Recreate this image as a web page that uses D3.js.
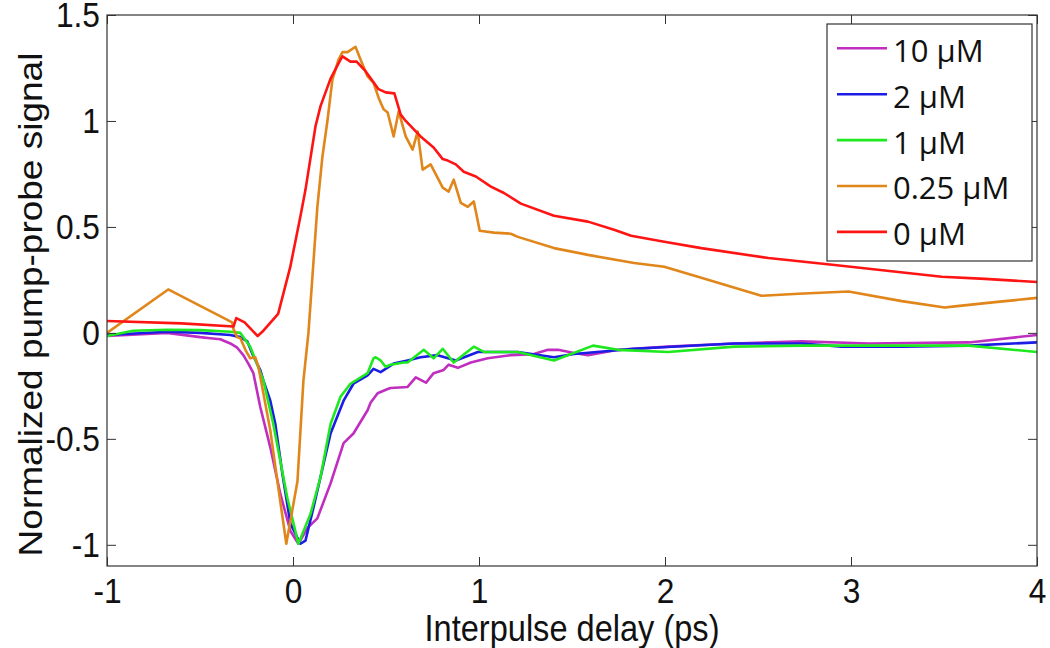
<!DOCTYPE html>
<html>
<head>
<meta charset="utf-8">
<script src="https://cdn.jsdelivr.net/npm/d3@7"></script>
<style>
  html, body { margin: 0; padding: 0; background: #fff; }
  svg { display: block; }
</style>
</head>
<body>
<svg id="chart" width="1050" height="648"></svg>
<script>
// ---------- data ----------
const seriesNames = ["10 μM", "2 μM", "1 μM", "0.25 μM", "0 μM"];
const seriesColors = ["#c02ec0", "#1c1ce6", "#1ee81e", "#e0861a", "#ff1414"];

const x10uM = [-1, -0.677, -0.499, -0.445, -0.391, -0.337, -0.30, -0.267, -0.24, -0.213, -0.176, -0.122, -0.068, -0.014, 0.029, 0.078, 0.131, 0.202, 0.272, 0.325, 0.401, 0.417, 0.455, 0.509, 0.525, 0.616, 0.66, 0.715, 0.756, 0.81, 0.837, 0.886, 0.956, 1.047, 1.171, 1.295, 1.371, 1.425, 1.511, 1.586, 1.748, 2.017, 2.373, 2.734, 3.095, 3.634, 4.0];
const y10uM = [-0.015, 0.0, -0.02, -0.025, -0.03, -0.05, -0.07, -0.105, -0.145, -0.19, -0.35, -0.54, -0.76, -0.935, -0.995, -0.92, -0.875, -0.71, -0.52, -0.475, -0.365, -0.33, -0.285, -0.265, -0.26, -0.255, -0.21, -0.235, -0.19, -0.175, -0.15, -0.165, -0.14, -0.12, -0.105, -0.10, -0.08, -0.08, -0.095, -0.105, -0.08, -0.065, -0.05, -0.04, -0.05, -0.045, -0.01];

const x2uM = [-1, -0.677, -0.499, -0.337, -0.283, -0.246, -0.213, -0.176, -0.159, -0.122, -0.095, -0.057, -0.014, 0.04, 0.067, 0.11, 0.148, 0.202, 0.272, 0.325, 0.401, 0.433, 0.471, 0.541, 0.616, 0.686, 0.778, 0.875, 0.994, 1.209, 1.403, 1.511, 1.834, 2.373, 2.734, 2.949, 3.273, 3.634, 4.0];
const y2uM = [-0.01, 0.005, 0.0, -0.01, -0.02, -0.04, -0.11, -0.175, -0.225, -0.32, -0.43, -0.665, -0.9, -0.995, -0.98, -0.825, -0.68, -0.475, -0.32, -0.24, -0.2, -0.17, -0.185, -0.145, -0.13, -0.115, -0.105, -0.13, -0.09, -0.09, -0.115, -0.10, -0.075, -0.05, -0.05, -0.065, -0.065, -0.06, -0.045];

const x1uM = [-1, -0.86, -0.677, -0.499, -0.337, -0.283, -0.23, -0.192, -0.159, -0.106, -0.03, 0.029, 0.094, 0.148, 0.202, 0.256, 0.309, 0.401, 0.433, 0.444, 0.471, 0.498, 0.525, 0.595, 0.616, 0.703, 0.756, 0.805, 0.864, 0.972, 1.026, 1.209, 1.403, 1.613, 1.748, 2.017, 2.373, 2.734, 3.0, 3.634, 4.0];
const y1uM = [-0.015, 0.01, 0.015, 0.013, 0.005, 0.0, -0.065, -0.15, -0.225, -0.43, -0.78, -0.995, -0.855, -0.68, -0.43, -0.30, -0.24, -0.19, -0.12, -0.115, -0.13, -0.16, -0.15, -0.14, -0.14, -0.08, -0.12, -0.075, -0.14, -0.065, -0.09, -0.09, -0.13, -0.06, -0.08, -0.09, -0.065, -0.06, -0.06, -0.06, -0.09];

const x025uM = [-1, -0.671, -0.327, -0.321, -0.30, -0.283, -0.256, -0.23, -0.203, -0.186, -0.122, -0.079, -0.036, 0.024, 0.056, 0.083, 0.131, 0.158, 0.185, 0.212, 0.245, 0.266, 0.293, 0.336, 0.363, 0.401, 0.433, 0.46, 0.487, 0.509, 0.541, 0.568, 0.606, 0.643, 0.67, 0.697, 0.74, 0.805, 0.837, 0.864, 0.902, 0.94, 0.972, 1.004, 1.08, 1.171, 1.209, 1.403, 1.586, 1.834, 1.996, 2.195, 2.518, 2.718, 2.987, 3.273, 3.504, 3.558, 3.774, 4.0];
const y025uM = [0.0, 0.205, 0.05, 0.02, -0.02, -0.025, -0.08, -0.12, -0.115, -0.16, -0.46, -0.73, -0.995, -0.70, -0.225, 0.0, 0.595, 0.83, 1.0, 1.196, 1.29, 1.325, 1.325, 1.35, 1.29, 1.21, 1.18, 1.11, 1.055, 1.04, 0.927, 1.045, 0.927, 0.865, 0.95, 0.77, 0.795, 0.685, 0.667, 0.723, 0.614, 0.595, 0.62, 0.482, 0.473, 0.468, 0.453, 0.40, 0.368, 0.33, 0.312, 0.26, 0.175, 0.185, 0.195, 0.15, 0.12, 0.125, 0.145, 0.165];

const x0uM = [-1, -0.6, -0.32, -0.305, -0.26, -0.19, -0.165, -0.08, -0.015, 0.04, 0.067, 0.121, 0.148, 0.202, 0.256, 0.266, 0.309, 0.342, 0.39, 0.46, 0.498, 0.545, 0.579, 0.606, 0.686, 0.756, 0.805, 0.832, 0.875, 0.918, 0.983, 1.064, 1.134, 1.225, 1.403, 1.586, 1.726, 1.818, 1.996, 2.195, 2.556, 2.912, 3.488, 3.72, 4.0];
const y0uM = [0.056, 0.045, 0.03, 0.07, 0.05, -0.015, 0.005, 0.09, 0.31, 0.55, 0.675, 0.975, 1.07, 1.20, 1.29, 1.305, 1.28, 1.28, 1.235, 1.15, 1.135, 1.13, 1.03, 1.0, 0.927, 0.875, 0.82, 0.813, 0.795, 0.76, 0.738, 0.69, 0.66, 0.61, 0.553, 0.525, 0.487, 0.458, 0.43, 0.40, 0.353, 0.32, 0.265, 0.255, 0.24];

const xTicks = [-1, 0, 1, 2, 3, 4];
const yTicks = [-1, -0.5, 0, 0.5, 1, 1.5];
const xTitle = "Interpulse delay (ps)";
const yTitle = "Normalized pump-probe signal";

const seriesX = [x10uM, x2uM, x1uM, x025uM, x0uM];
const seriesY = [y10uM, y2uM, y1uM, y025uM, y0uM];

// ---------- layout ----------
const L = 107, R = 1037, T = 15, B = 566;
const axisColor = "#333";
const squeeze = 0.88;      // horizontally condensed axis text
const axisFont = "'Liberation Sans', Arial, sans-serif";

const svg = d3.select("#chart");
const x = d3.scaleLinear().domain([-1, 4]).range([L, R]);
const y = d3.scaleLinear().domain([-1.1, 1.5]).range([B, T]);

svg.append("defs").append("clipPath").attr("id", "plotclip")
  .append("rect").attr("x", L).attr("y", T).attr("width", R - L).attr("height", B - T);

// curves
const line = d3.line().x(d => x(d[0])).y(d => y(d[1]));
const curves = svg.append("g").attr("clip-path", "url(#plotclip)");
seriesNames.forEach((name, i) => {
  const pts = seriesX[i].map((v, j) => [v, seriesY[i][j]]);
  curves.append("path")
    .datum(pts)
    .attr("d", line)
    .attr("fill", "none")
    .attr("stroke", seriesColors[i])
    .attr("stroke-width", 2.6)
    .attr("stroke-linejoin", "round");
});

// axes (MATLAB style: inward ticks, box)
const fmt = d => String(d);
function styleAxis(g) {
  g.select(".domain").remove();
  g.selectAll(".tick line").attr("stroke", axisColor).attr("stroke-width", 1);
  g.selectAll(".tick text").attr("fill", "#111").attr("font-family", axisFont).attr("font-size", 36);
}
const gx = svg.append("g").attr("transform", `translate(0,${B})`)
  .call(d3.axisBottom(x).tickValues(xTicks).tickFormat(fmt).tickSizeInner(-9).tickSizeOuter(0).tickPadding(11));
styleAxis(gx);
gx.selectAll(".tick text").attr("transform", `scale(${squeeze},1)`);

const gxt = svg.append("g").attr("transform", `translate(0,${T})`)
  .call(d3.axisTop(x).tickValues(xTicks).tickFormat("").tickSizeInner(-9).tickSizeOuter(0));
styleAxis(gxt);

const gy = svg.append("g").attr("transform", `translate(${L},0)`)
  .call(d3.axisLeft(y).tickValues(yTicks).tickFormat(fmt).tickSizeInner(-9).tickSizeOuter(0).tickPadding(8));
styleAxis(gy);
gy.selectAll(".tick text").attr("transform", `scale(${squeeze},1)`);

const gyr = svg.append("g").attr("transform", `translate(${R},0)`)
  .call(d3.axisRight(y).tickValues(yTicks).tickFormat("").tickSizeInner(-9).tickSizeOuter(0));
styleAxis(gyr);

// box
svg.append("rect").attr("x", L).attr("y", T).attr("width", R - L).attr("height", B - T)
  .attr("fill", "none").attr("stroke", axisColor).attr("stroke-width", 1.2);

// axis titles
svg.append("text")
  .attr("transform", `translate(${(L + R) / 2},641) scale(${squeeze},1)`)
  .attr("text-anchor", "middle")
  .attr("font-family", axisFont).attr("font-size", 37).attr("fill", "#111")
  .text(xTitle);

svg.append("text")
  .attr("transform", `translate(42,${(T + B) / 2 + 14}) rotate(-90) scale(1,${squeeze})`)
  .attr("text-anchor", "middle")
  .attr("font-family", axisFont).attr("font-size", 37).attr("fill", "#111")
  .text(yTitle);

// legend
const lg = svg.append("g");
lg.append("rect").attr("x", 827).attr("y", 24).attr("width", 205).attr("height", 237)
  .attr("fill", "#fff").attr("stroke", axisColor).attr("stroke-width", 1.2);
seriesNames.forEach((name, i) => {
  const cy = 48.3 + i * 45.9;
  lg.append("line").attr("x1", 837).attr("x2", 887).attr("y1", cy).attr("y2", cy)
    .attr("stroke", seriesColors[i]).attr("stroke-width", 2.6);
  lg.append("text").attr("x", 893).attr("y", cy + 13.4)
    .attr("font-family", "'Open Sans', sans-serif").attr("font-size", 31).attr("fill", "#111")
    .text(name);
});
</script>
</body>
</html>
